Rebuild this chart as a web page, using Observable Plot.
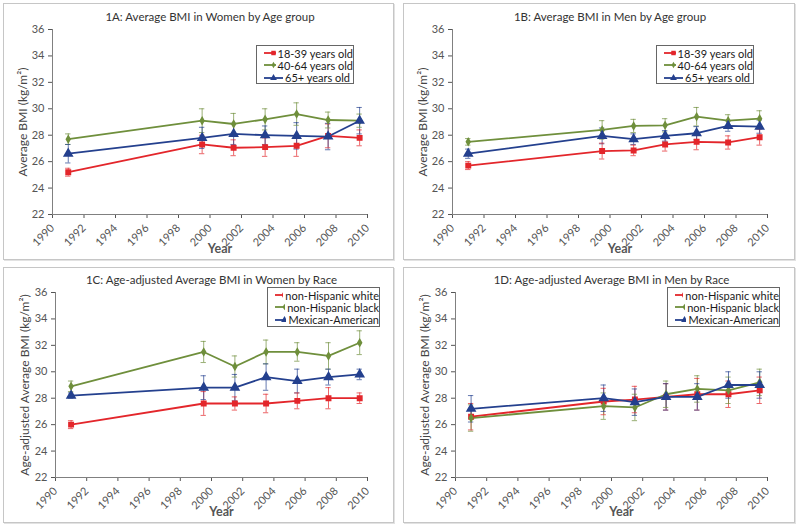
<!DOCTYPE html>
<html><head><meta charset="utf-8">
<script src="https://cdn.jsdelivr.net/npm/d3@7"></script>
<script src="https://cdn.jsdelivr.net/npm/@observablehq/plot@0.6"></script>
<style>
body{margin:0;background:#fff;font-family:Lato,"Open Sans",sans-serif;}
#root{position:relative;width:800px;height:527px;overflow:hidden;background:#fff;}
.frame{position:absolute;border:1px solid #c6c6c6;box-shadow:1px 1px 0 #e2e2e2;}
.panel{position:absolute;}
.legend{position:absolute;border:1px solid #666;background:#fff;font-size:11px;color:#1a1a1a;padding:1px 0 1px 0;box-sizing:border-box;}
.legend .row{display:flex;align-items:center;height:12.3px;white-space:nowrap;}
.legend svg{margin:0 2px 0 7px;}
</style></head>
<body><div id="root"></div>
<script>
// ---------- data ----------
const years = [1991, 1999.5, 2001.5, 2003.5, 2005.5, 2007.5, 2009.5];
const xTicks = [1990, 1992, 1994, 1996, 1998, 2000, 2002, 2004, 2006, 2008, 2010];
const yTicks = [22, 24, 26, 28, 30, 32, 34, 36];
const ageGroups = ["18-39 years old", "40-64 years old", "65+ years old"];
const races = ["non-Hispanic white", "non-Hispanic black", "Mexican-American"];

// 1A women by age
const womenAge18_39 = [25.2, 27.3, 27.05, 27.1, 27.2, 27.95, 27.8];
const womenAge18_39Err = [0.3, 0.7, 0.6, 0.7, 0.8, 0.9, 0.6];
const womenAge40_64 = [27.7, 29.1, 28.85, 29.2, 29.6, 29.15, 29.1];
const womenAge40_64Err = [0.4, 0.9, 0.8, 0.8, 0.85, 0.6, 0.5];
const womenAge65 = [26.6, 27.8, 28.1, 28.0, 27.95, 27.9, 29.1];
const womenAge65Err = [0.7, 0.8, 0.8, 0.7, 1.0, 1.0, 1.0];
// 1B men by age
const menAge18_39 = [25.7, 26.8, 26.85, 27.3, 27.5, 27.45, 27.85];
const menAge18_39Err = [0.3, 0.6, 0.4, 0.5, 0.6, 0.5, 0.6];
const menAge40_64 = [27.5, 28.4, 28.7, 28.75, 29.4, 29.1, 29.25];
const menAge40_64Err = [0.25, 0.7, 0.5, 0.5, 0.7, 0.45, 0.6];
const menAge65 = [26.6, 27.95, 27.7, 27.95, 28.15, 28.7, 28.65];
const menAge65Err = [0.35, 0.6, 0.4, 0.4, 0.5, 0.4, 0.5];
// 1C women by race
const womenWhite = [26.0, 27.6, 27.6, 27.6, 27.8, 28.0, 28.0];
const womenWhiteErr = [0.3, 0.9, 0.5, 0.7, 0.6, 0.8, 0.4];
const womenBlack = [28.9, 31.5, 30.4, 31.5, 31.5, 31.2, 32.2];
const womenBlackErr = [0.4, 0.8, 0.8, 0.9, 0.7, 1.0, 0.9];
const womenMexican = [28.2, 28.8, 28.8, 29.6, 29.3, 29.6, 29.8];
const womenMexicanErr = [0.2, 0.9, 1.0, 1.0, 0.9, 0.6, 0.4];
// 1D men by race
const menWhite = [26.6, 27.75, 27.9, 28.1, 28.3, 28.3, 28.6];
const menWhiteErr = [1.0, 1.0, 1.0, 1.0, 1.2, 1.0, 1.0];
const menBlack = [26.5, 27.4, 27.3, 28.3, 28.7, 28.6, 29.2];
const menBlackErr = [1.0, 1.0, 1.0, 1.0, 1.0, 1.0, 1.0];
const menMexican = [27.2, 28.0, 27.7, 28.1, 28.1, 29.0, 29.0];
const menMexicanErr = [1.0, 1.0, 1.0, 1.0, 1.0, 1.0, 1.0];

// ---------- styling ----------
const colors = ["#e3262b", "#6f8f3c", "#24408e"];
const symbols = ["square", "diamond", "triangle"];
const symbolR = [2.5, 2.0, 3.0];
const FONT = "Lato, 'Open Sans', sans-serif";

const panels = [
  {left: 0, top: 0, h: 263, ml: 52, mb: 49, title: "1A: Average BMI in Women by Age group",
   ylabel: "Average BMI (kg/m²)", names: ageGroups,
   values: [womenAge18_39, womenAge40_64, womenAge65], errs: [womenAge18_39Err, womenAge40_64Err, womenAge65Err],
   frame: [3, 3, 389, 255], legend: [256, 45, 98, 39]},
  {left: 400, top: 0, h: 263, ml: 52, mb: 49, title: "1B: Average BMI in Men by Age group",
   ylabel: "Average BMI (kg/m²)", names: ageGroups,
   values: [menAge18_39, menAge40_64, menAge65], errs: [menAge18_39Err, menAge40_64Err, menAge65Err],
   frame: [403, 3, 390, 255], legend: [656, 45, 98, 39]},
  {left: 0, top: 263, h: 264, ml: 55, mb: 50, title: "1C: Age-adjusted Average BMI in Women by Race",
   ylabel: "Age-adjusted Average BMI (kg/m²)", names: races,
   values: [womenWhite, womenBlack, womenMexican], errs: [womenWhiteErr, womenBlackErr, womenMexicanErr],
   frame: [3, 267, 389, 254], legend: [267, 287, 113, 40]},
  {left: 400, top: 263, h: 264, ml: 55, mb: 50, title: "1D: Age-adjusted Average BMI in Men by Race",
   ylabel: "Age-adjusted Average BMI (kg/m²)", names: races,
   values: [menWhite, menBlack, menMexican], errs: [menWhiteErr, menBlackErr, menMexicanErr],
   frame: [403, 267, 390, 254], legend: [667, 287, 113, 40]}
];

const root = document.getElementById("root");

for (const p of panels) {
  const fr = document.createElement("div");
  fr.className = "frame";
  Object.assign(fr.style, {left: p.frame[0] + "px", top: p.frame[1] + "px", width: p.frame[2] + "px", height: p.frame[3] + "px"});
  root.appendChild(fr);

  const rows = p.names.flatMap((name, s) => years.map((yr, i) => ({
    year: yr, v: p.values[s][i], lo: p.values[s][i] - p.errs[s][i], hi: p.values[s][i] + p.errs[s][i], name, s
  })));

  const chart = Plot.plot({
    width: 400, height: p.h,
    marginLeft: p.ml, marginRight: 33, marginTop: 29, marginBottom: p.mb,
    style: {fontFamily: FONT, fontSize: "11px", background: "transparent", overflow: "visible"},
    x: {domain: [1990, 2010]},
    y: {domain: [22, 36]},
    color: {domain: p.names, range: colors},
    marks: [
      Plot.axisY({ticks: yTicks, tickSize: 4, tickPadding: 4, label: null, color: "#555", fontSize: 11}),
      Plot.axisX({ticks: xTicks, tickSize: 4, tickRotate: -45, tickFormat: d => String(d), label: null, color: "#555", fontSize: 11}),
      Plot.ruleX([1990], {stroke: "#808080"}),
      Plot.ruleY([22], {stroke: "#808080"}),
      Plot.ruleX(rows, {x: "year", y1: "lo", y2: "hi", stroke: "name", strokeWidth: 1, strokeOpacity: 0.7}),
      Plot.ruleY(rows, {y: "lo", x1: d => d.year - 0.17, x2: d => d.year + 0.17, stroke: "name", strokeOpacity: 0.7}),
      Plot.ruleY(rows, {y: "hi", x1: d => d.year - 0.17, x2: d => d.year + 0.17, stroke: "name", strokeOpacity: 0.7}),
      Plot.line(rows, {x: "year", y: "v", z: "name", stroke: "name", strokeWidth: 1.8}),
      ...p.names.map((name, s) => Plot.dot(rows.filter(d => d.s === s), {x: "year", y: "v", symbol: symbols[s], fill: colors[s], stroke: colors[s], r: symbolR[s]})),
      Plot.text([p.title], {frameAnchor: "top", lineAnchor: "middle", dy: -12, fontSize: 11.5, fill: "#333"}),
      Plot.text([p.ylabel], {frameAnchor: "left", textAnchor: "middle", lineAnchor: "middle", rotate: -90, dx: p.ml === 52 ? -29 : -30, fontSize: 12, fill: "#444"}),
      Plot.text(["Year"], {frameAnchor: "bottom", lineAnchor: "middle", dy: 34, dx: 10, fontSize: 12.5, fontWeight: "bold", fill: "#555"})
    ]
  });
  const wrap = document.createElement("div");
  wrap.className = "panel";
  Object.assign(wrap.style, {left: p.left + "px", top: p.top + "px"});
  wrap.appendChild(chart);
  root.appendChild(wrap);

  // legend
  const lg = document.createElement("div");
  lg.className = "legend";
  Object.assign(lg.style, {left: p.legend[0] + "px", top: p.legend[1] + "px", width: p.legend[2] + "px", height: p.legend[3] + "px"});
  const symMap = {square: d3.symbolSquare, diamond: d3.symbolDiamond, triangle: d3.symbolTriangle};
  p.names.forEach((name, s) => {
    const row = document.createElement("div");
    row.className = "row";
    const sw = d3.create("svg").attr("width", 19).attr("height", 10);
    sw.append("line").attr("x1", 0).attr("x2", 19).attr("y1", 5).attr("y2", 5).attr("stroke", colors[s]).attr("stroke-width", 1.8);
    sw.append("path").attr("d", d3.symbol(symMap[symbols[s]], s === 1 ? 12 : 20)()).attr("transform", "translate(9.5,5)").attr("fill", colors[s]);
    row.appendChild(sw.node());
    const t = document.createElement("span");
    t.textContent = name;
    row.appendChild(t);
    lg.appendChild(row);
  });
  root.appendChild(lg);
}
</script></body></html>
